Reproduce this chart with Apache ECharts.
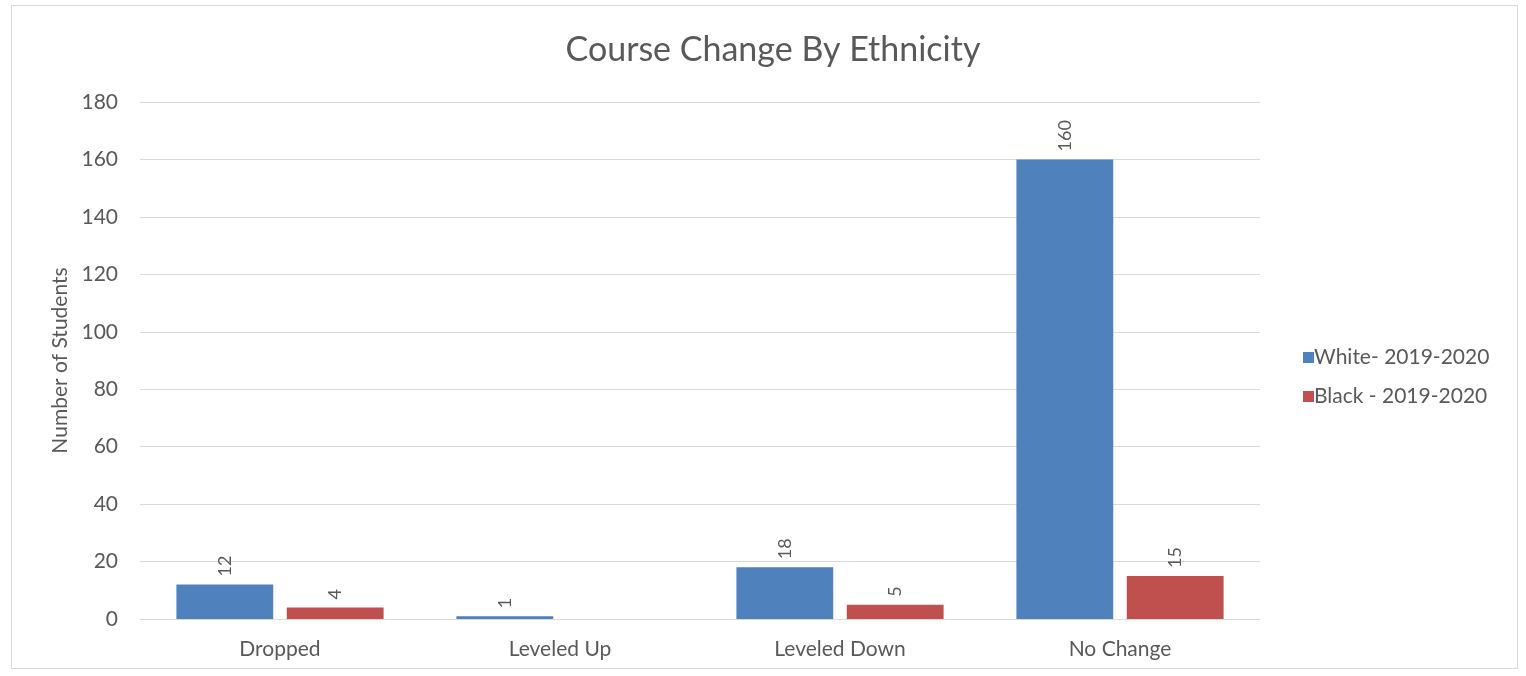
<!DOCTYPE html>
<html>
<head>
<meta charset="utf-8">
<script src="https://cdn.jsdelivr.net/npm/echarts@6/dist/echarts.min.js"></script>
<style>
  html, body { margin: 0; padding: 0; background: #fff; }
  #frame {
    position: absolute; left: 11px; top: 5px; width: 1507px; height: 664px;
    border: 1px solid #d9d9d9; box-sizing: border-box;
  }
  #chart { position: absolute; left: 0; top: 0; width: 1526px; height: 676px; }
</style>
</head>
<body>
<div id="frame"></div>
<div id="chart"></div>
<script>
const categories = ['Dropped', 'Leveled Up', 'Leveled Down', 'No Change'];
const whiteValues = [12, 1, 18, 160];
const blackValues = [4, null, 5, 15];
const seriesNames = ['White- 2019-2020', 'Black - 2019-2020'];

const chart = echarts.init(document.getElementById('chart'));
const textColor = '#595959';
const font = 'Lato, "Open Sans", sans-serif';

const barLabel = {
    show: true,
    position: 'top',
    rotate: 90,
    align: 'left',
    verticalAlign: 'middle',
    distance: 8,
    color: textColor,
    fontSize: 18,
    fontFamily: font,
};

chart.setOption({
    backgroundColor: 'transparent',
    animation: false,
    title: {
        text: 'Course Change By Ethnicity',
        left: 768,
        top: 28,
        textAlign: 'center',
        textStyle: { color: textColor, fontSize: 34, fontWeight: 'normal', fontFamily: font },
    },
    legend: {
        orient: 'vertical',
        left: 1298,
        top: 342,
        itemWidth: 11,
        itemHeight: 11,
        itemGap: 18,
        icon: 'rect',
        textStyle: { color: textColor, fontSize: 21, fontFamily: font, padding: [0, 0, 0, -5] },
        data: seriesNames,
    },
    grid: { left: 140, right: 266, top: 102, bottom: 57 },
    xAxis: {
        type: 'category',
        data: categories,
        axisLine: { lineStyle: { color: '#d9d9d9' } },
        axisTick: { show: false },
        axisLabel: { color: textColor, fontSize: 21, fontFamily: font, margin: 20 },
    },
    yAxis: {
        type: 'value',
        min: 0,
        max: 180,
        interval: 20,
        name: 'Number of Students',
        nameLocation: 'middle',
        nameGap: 68,
        nameTextStyle: { color: textColor, fontSize: 21, fontFamily: font },
        axisLine: { show: false },
        axisTick: { show: false },
        axisLabel: { color: textColor, fontSize: 21, fontFamily: font, margin: 22 },
        splitLine: { lineStyle: { color: '#d9d9d9' } },
    },
    series: [
        {
            name: seriesNames[0],
            type: 'bar',
            data: whiteValues,
            itemStyle: { color: '#4F81BD' },
            barGap: '14%',
            barCategoryGap: '26%',
            label: barLabel,
        },
        {
            name: seriesNames[1],
            type: 'bar',
            data: blackValues,
            itemStyle: { color: '#C0504D' },
            label: barLabel,
        },
    ],
});
</script>
</body>
</html>
